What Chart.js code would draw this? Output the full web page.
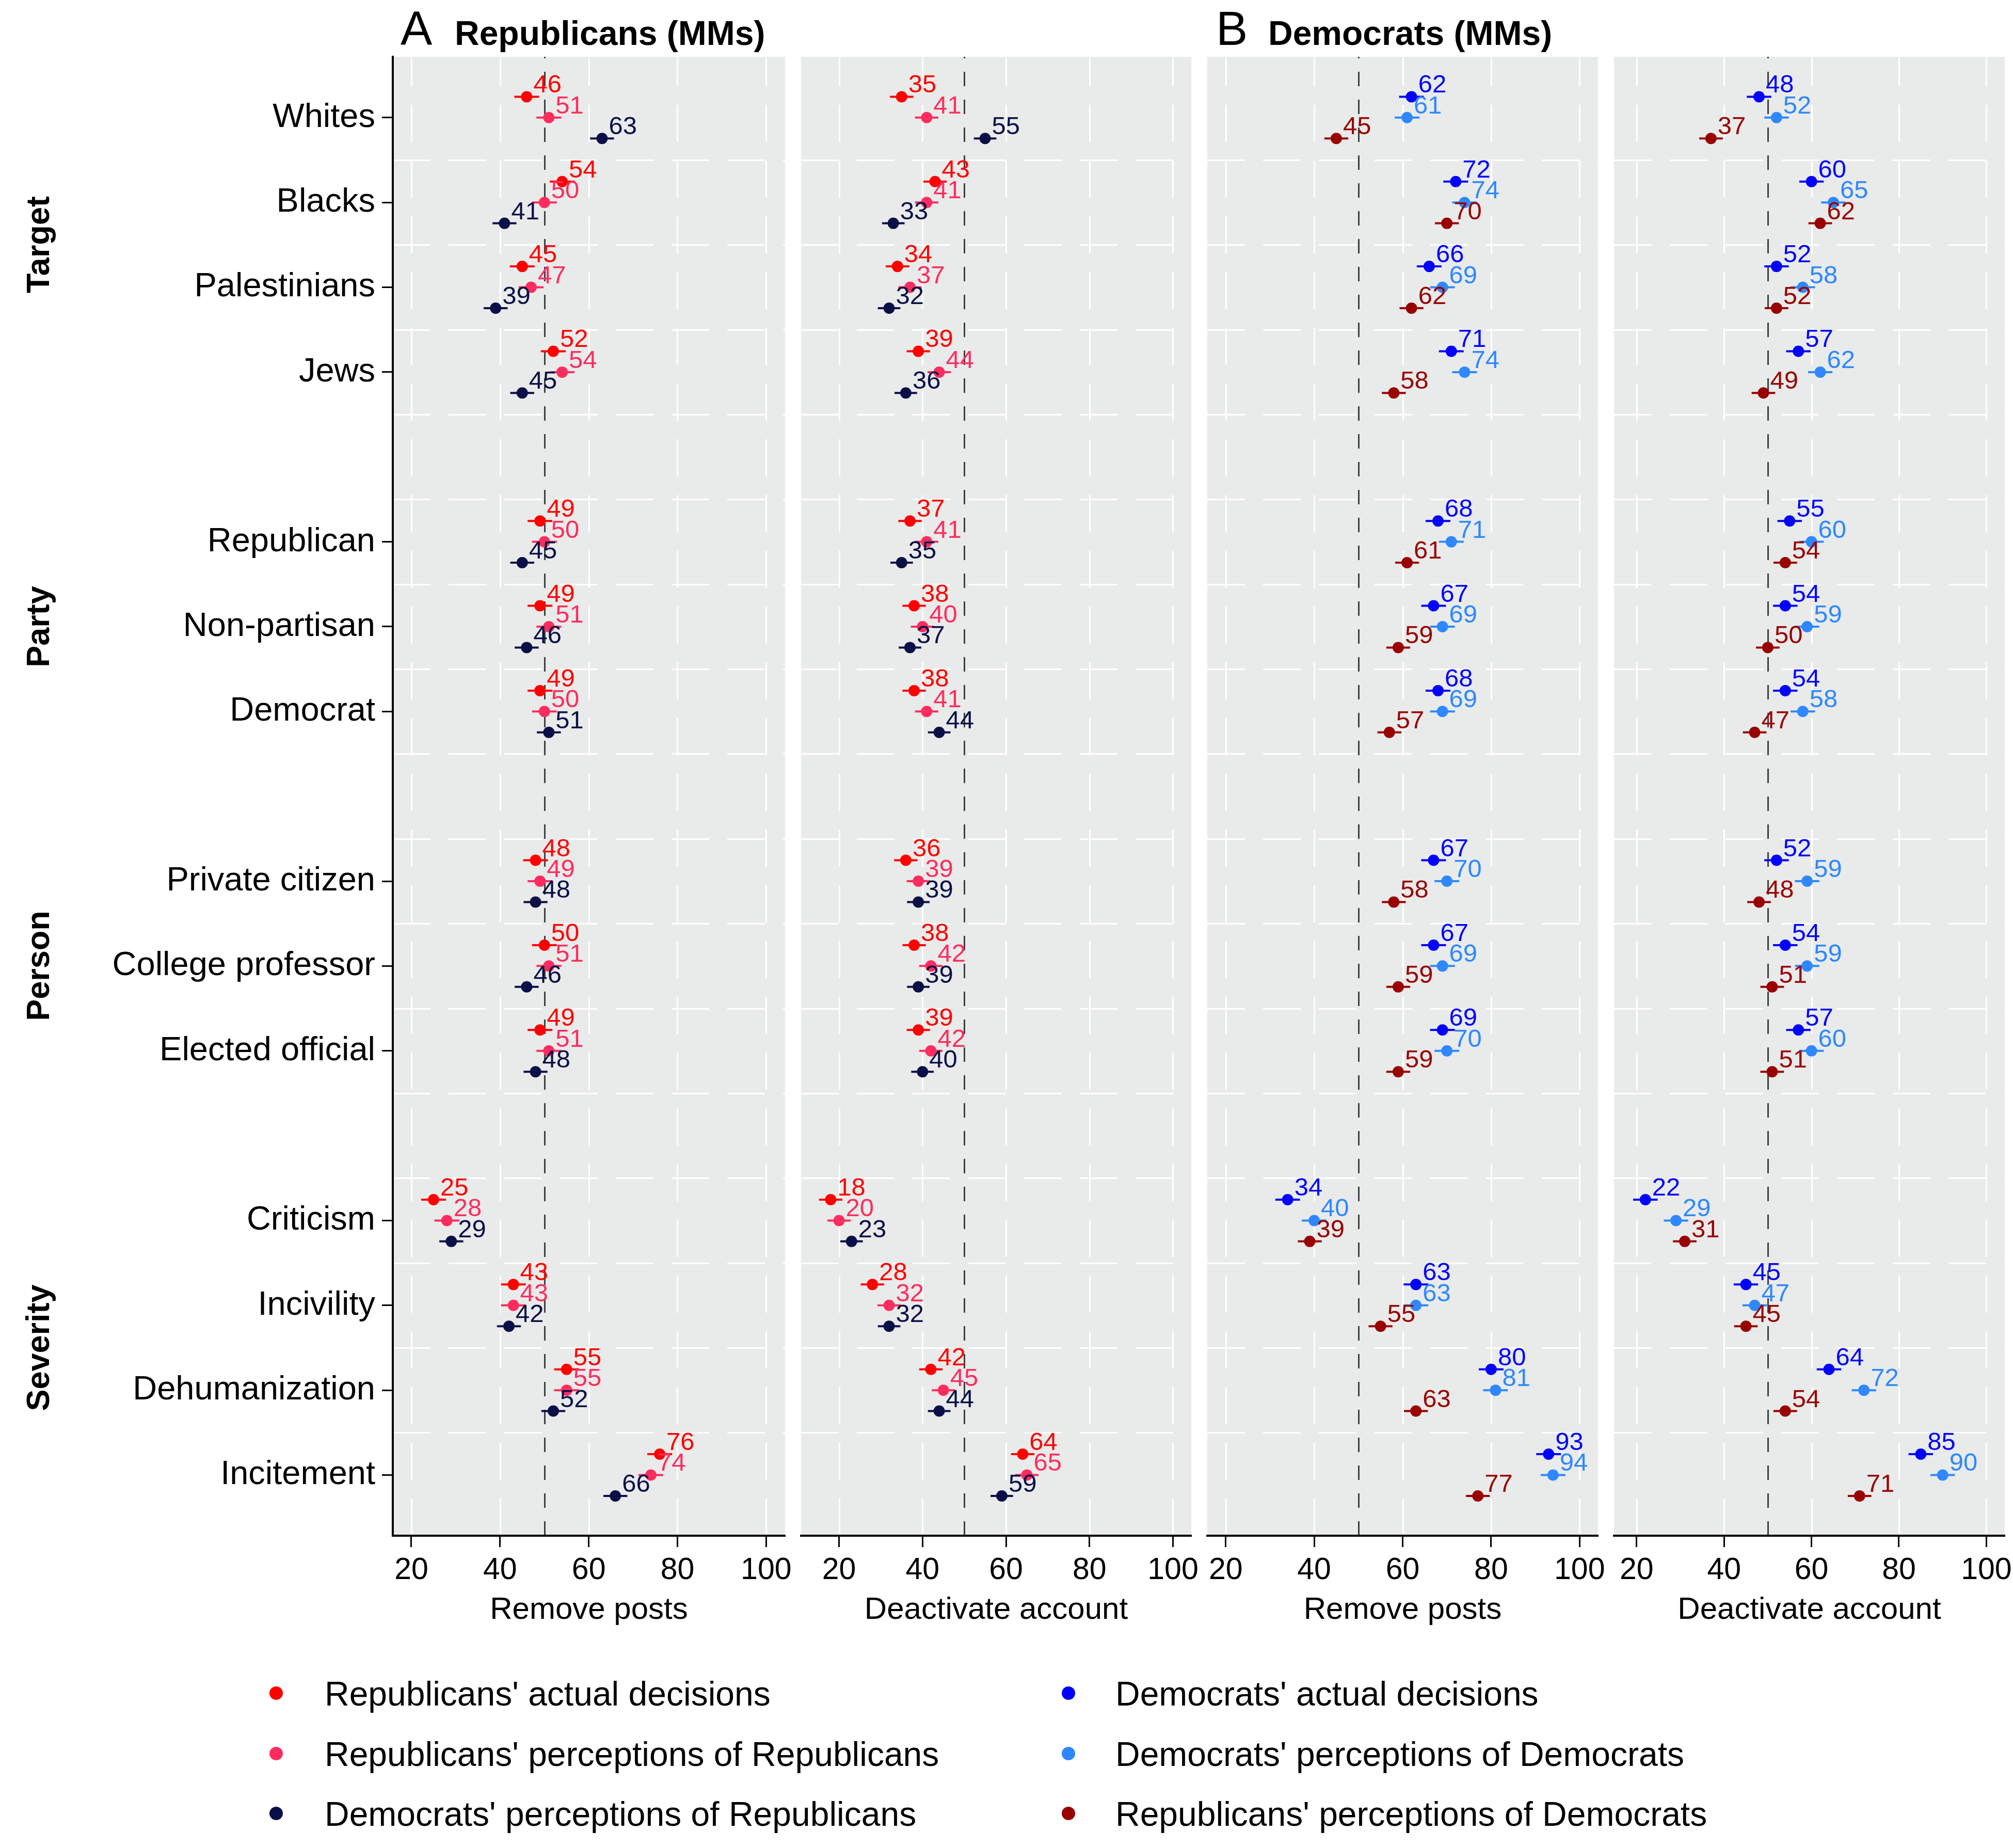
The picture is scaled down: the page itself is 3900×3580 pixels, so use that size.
<!DOCTYPE html>
<html><head><meta charset="utf-8">
<script src="https://cdn.jsdelivr.net/npm/chart.js@4.4.1/dist/chart.umd.min.js"></script>
<style>
html,body{margin:0;padding:0;background:#fff;}
body{width:3900px;height:3580px;position:relative;overflow:hidden;font-family:"Liberation Sans",Arial,Helvetica,sans-serif;}
canvas{position:absolute;}
.t{position:absolute;white-space:nowrap;color:#000;line-height:1;}
.grp{position:absolute;white-space:nowrap;color:#000;line-height:1;font-weight:bold;font-size:63px;transform:translate(-50%,-50%) rotate(-90deg);}
.dot{position:absolute;border-radius:50%;}
</style></head><body>
<script>
// ---------------- DATA ----------------
const rowLabels = ['Whites','Blacks','Palestinians','Jews','Republican','Non-partisan','Democrat',
  'Private citizen','College professor','Elected official','Criticism','Incivility','Dehumanization','Incitement'];
const rowPositions = [0,1,2,3,5,6,7,9,10,11,13,14,15,16];
const groupLabels = ['Target','Party','Person','Severity'];
const groupCenters = [1.5, 6, 10, 14.5];
const xTicks = [20,40,60,80,100];
const xTitles = ['Remove posts','Deactivate account','Remove posts','Deactivate account'];
const panelLetters = ['A','B'];
const panelNames = ['Republicans (MMs)','Democrats (MMs)'];

const seriesNames = ["Republicans' actual decisions","Republicans' perceptions of Republicans","Democrats' perceptions of Republicans",
  "Democrats' actual decisions","Democrats' perceptions of Democrats","Republicans' perceptions of Democrats"];
const seriesColors = ['#ff0000','#ff2d5f','#0a0f47','#0000ff','#2f88ff','#990000'];

// Panel A - Remove posts
const repRemoveActual  = [46,54,45,52,49,49,49,48,50,49,25,43,55,76];
const repRemovePercRep = [51,50,47,54,50,51,50,49,51,51,28,43,55,74];
const demRemovePercRep = [63,41,39,45,45,46,51,48,46,48,29,42,52,66];
// Panel A - Deactivate account
const repDeactActual   = [35,43,34,39,37,38,38,36,38,39,18,28,42,64];
const repDeactPercRep  = [41,41,37,44,41,40,41,39,42,42,20,32,45,65];
const demDeactPercRep  = [55,33,32,36,35,37,44,39,39,40,23,32,44,59];
// Panel B - Remove posts
const demRemoveActual  = [62,72,66,71,68,67,68,67,67,69,34,63,80,93];
const demRemovePercDem = [61,74,69,74,71,69,69,70,69,70,40,63,81,94];
const repRemovePercDem = [45,70,62,58,61,59,57,58,59,59,39,55,63,77];
// Panel B - Deactivate account
const demDeactActual   = [48,60,52,57,55,54,54,52,54,57,22,45,64,85];
const demDeactPercDem  = [52,65,58,62,60,59,58,59,59,60,29,47,72,90];
const repDeactPercDem  = [37,62,52,49,54,50,47,48,51,51,31,45,54,71];

const errorHalfWidth = [2.8, 2.8, 2.7];
const referenceValue = 50;
const xRanges = [[15.81,104.27],[10.91,104.39],[15.83,104.17],[14.82,104.21]];
// ---------------------------------------

const FONT = '"Liberation Sans", Arial, Helvetica, sans-serif';
Chart.defaults.font.family = FONT;
const rowOffsets = [-0.246, 0, 0.246];
const Y_MIN = -0.717, Y_MAX = 16.715;
const PLOT_TOP = 110, PLOT_BOTTOM = 2975;
const panels = [
  {left:761,right:1521, series:[repRemoveActual,repRemovePercRep,demRemovePercRep], colors:[0,1,2]},
  {left:1552,right:2308, series:[repDeactActual,repDeactPercRep,demDeactPercRep], colors:[0,1,2]},
  {left:2339,right:3096, series:[demRemoveActual,demRemovePercDem,repRemovePercDem], colors:[3,4,5]},
  {left:3127,right:3884, series:[demDeactActual,demDeactPercDem,repDeactPercDem], colors:[3,4,5]}
];
const hGrid = [];
for (let k = 0; k < 16; k++) hGrid.push(k + 0.5);

const decor = {
  id: 'decor',
  beforeDraw(chart) {
    const {ctx, chartArea: a, scales: {x, y}} = chart;
    ctx.save();
    ctx.fillStyle = '#e9ebea';
    ctx.fillRect(a.left, a.top, a.right - a.left, a.bottom - a.top);
    ctx.strokeStyle = '#ffffff';
    ctx.lineWidth = 3;
    ctx.setLineDash([73, 35]);
    for (const v of hGrid) {
      const py = Math.round(y.getPixelForValue(v)) + 0.5;
      ctx.beginPath(); ctx.moveTo(a.left, py); ctx.lineTo(a.right, py); ctx.stroke();
    }
    ctx.setLineDash([72, 36]);
    for (const v of xTicks) {
      const px = Math.round(x.getPixelForValue(v)) + 0.5;
      ctx.beginPath(); ctx.moveTo(px, a.bottom); ctx.lineTo(px, a.top); ctx.stroke();
    }
    ctx.strokeStyle = '#3c4040';
    ctx.setLineDash([28, 26]);
    const rx = Math.round(x.getPixelForValue(referenceValue)) + 0.5;
    ctx.beginPath(); ctx.moveTo(rx, a.bottom); ctx.lineTo(rx, a.top); ctx.stroke();
    ctx.restore();
  },
  beforeDatasetsDraw(chart) {
    const {ctx, scales: {x, y}} = chart;
    ctx.save();
    ctx.lineWidth = 4;
    chart.data.datasets.forEach((ds, si) => {
      ctx.strokeStyle = ds.backgroundColor;
      ds.data.forEach(p => {
        const py = y.getPixelForValue(p.y);
        ctx.beginPath();
        ctx.moveTo(x.getPixelForValue(p.x - errorHalfWidth[si]), py);
        ctx.lineTo(x.getPixelForValue(p.x + errorHalfWidth[si]), py);
        ctx.stroke();
      });
    });
    ctx.restore();
  },
  afterDatasetsDraw(chart) {
    const {ctx, scales: {x, y}} = chart;
    ctx.save();
    ctx.font = '49px ' + FONT;
    ctx.textBaseline = 'alphabetic';
    ctx.textAlign = 'left';
    chart.data.datasets.forEach(ds => {
      ctx.fillStyle = ds.backgroundColor;
      ds.data.forEach(p => {
        ctx.fillText(String(Math.round(p.x)), x.getPixelForValue(p.x) + 13, y.getPixelForValue(p.y) - 8);
      });
    });
    ctx.restore();
  }
};

panels.forEach((pn, pi) => {
  const showY = pi === 0;
  const padL = showY ? 0 : 50;
  const canvasLeft = showY ? 150 : pn.left - 50;
  const yWidth = showY ? pn.left - canvasLeft : 0;
  const canvasTop = PLOT_TOP - 50;
  const cv = document.createElement('canvas');
  cv.width = pn.right + 50 - canvasLeft;
  cv.height = 3155 - canvasTop;
  cv.style.left = canvasLeft + 'px';
  cv.style.top = canvasTop + 'px';
  cv.style.width = cv.width + 'px';
  cv.style.height = cv.height + 'px';
  document.body.appendChild(cv);
  const datasets = pn.series.map((vals, si) => ({
    data: vals.map((v, i) => ({x: v, y: rowPositions[i] + rowOffsets[si]})),
    backgroundColor: seriesColors[pn.colors[si]],
    borderWidth: 0, pointRadius: 11, pointHoverRadius: 11, pointStyle: 'circle'
  }));
  new Chart(cv, {
    type: 'scatter',
    data: {datasets},
    plugins: [decor],
    options: {
      responsive: false, animation: false, devicePixelRatio: 1, events: [],
      layout: {padding: {top: 50, right: 50, bottom: 0, left: padL}},
      plugins: {legend: {display: false}, tooltip: {enabled: false}},
      scales: {
        x: {
          type: 'linear', position: 'bottom', min: xRanges[pi][0], max: xRanges[pi][1],
          afterBuildTicks: s => { s.ticks = xTicks.map(v => ({value: v})); },
          afterFit: s => { s.height = 180; s.paddingLeft = 0; s.paddingRight = 0; },
          grid: {display: true, drawOnChartArea: false, drawTicks: true, tickLength: 22, tickWidth: 3, tickColor: '#000'},
          border: {display: true, color: '#000', width: 4},
          ticks: {color: '#000', font: {size: 59}, padding: 10, maxRotation: 0, autoSkip: false},
          title: {display: true, text: xTitles[pi], color: '#000', font: {size: 60, lineHeight: 1.2}, padding: 0}
        },
        y: {
          type: 'linear', min: Y_MIN, max: Y_MAX, reverse: true, display: showY,
          afterBuildTicks: s => { s.ticks = rowPositions.map(v => ({value: v})); },
          afterFit: s => { s.width = yWidth; s.paddingTop = 0; s.paddingBottom = 0; },
          grid: {display: true, drawOnChartArea: false, drawTicks: true, tickLength: 21, tickWidth: 3, tickColor: '#000'},
          border: {display: true, color: '#000', width: 4},
          ticks: {color: '#000', font: {size: 65}, padding: 13, autoSkip: false,
                   callback: v => rowLabels[rowPositions.indexOf(v)]}
        }
      }
    }
  });
});

// Text: panel titles, group labels, legend
function addText(cls, txt, left, top, extra) {
  const d = document.createElement('div');
  d.className = cls; d.textContent = txt;
  d.style.left = left + 'px'; d.style.top = top + 'px';
  Object.assign(d.style, extra || {});
  document.body.appendChild(d);
  return d;
}
const rowPix = r => PLOT_TOP + (r - Y_MIN) / (Y_MAX - Y_MIN) * (PLOT_BOTTOM - PLOT_TOP);
addText('t', panelLetters[0], 776, 87 - 0.8465 * 92, {fontSize: '92px'});
addText('t', panelNames[0], 881, 87 - 0.8465 * 66, {fontSize: '66px', fontWeight: 'bold'});
addText('t', panelLetters[1], 2356, 87 - 0.8465 * 92, {fontSize: '92px'});
addText('t', panelNames[1], 2457, 87 - 0.8465 * 66, {fontSize: '66px', fontWeight: 'bold'});
groupLabels.forEach((g, i) => addText('grp', g, 73, rowPix(groupCenters[i])));

const legendRows = [3280, 3397, 3513];
const legendCols = [[535, 629], [2070, 2161]];
seriesNames.forEach((nm, i) => {
  const col = Math.floor(i / 3), row = i % 3;
  const cy = legendRows[row];
  const d = document.createElement('div');
  d.className = 'dot';
  const r = 13;
  Object.assign(d.style, {left: (legendCols[col][0] - r) + 'px', top: (cy - r) + 'px', width: 2*r + 'px', height: 2*r + 'px', background: seriesColors[i]});
  document.body.appendChild(d);
  addText('t', nm, legendCols[col][1], cy - 32, {fontSize: '66px'});
});
</script>
</body></html>
